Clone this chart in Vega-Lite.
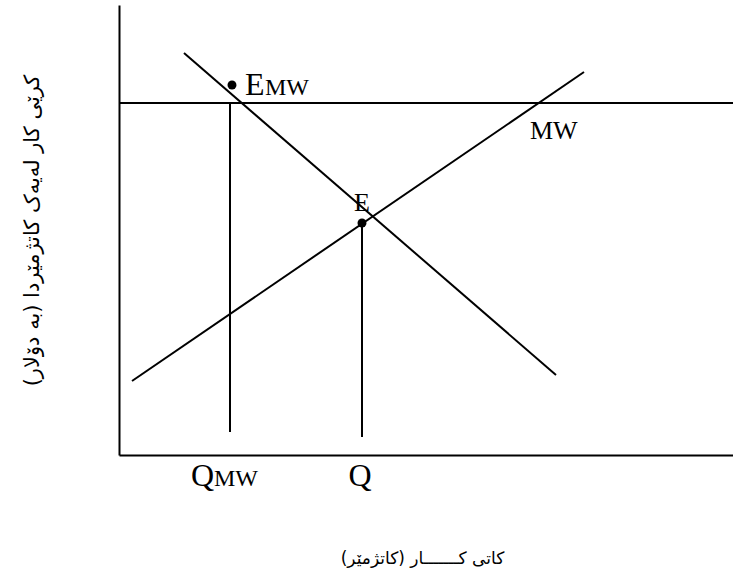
{
  "$schema": "https://vega.github.io/schema/vega-lite/v6.json",
  "width": 614,
  "height": 450,
  "autosize": "none",
  "padding": {"left": 119, "top": 5, "right": 0, "bottom": 133},
  "background": "white",
  "config": {"view": {"stroke": null}},
  "datasets": {
    "segments": [
      {"name": "MW", "x1": 0, "y1": 352, "x2": 614, "y2": 352},
      {"name": "D", "x1": 65, "y1": 402, "x2": 437, "y2": 80},
      {"name": "S", "x1": 13, "y1": 74, "x2": 465, "y2": 383},
      {"name": "QMW", "x1": 111, "y1": 352, "x2": 111, "y2": 23},
      {"name": "Q", "x1": 243, "y1": 232, "x2": 243, "y2": 18}
    ],
    "points": [
      {"name": "EMW", "x": 113, "y": 370},
      {"name": "E", "x": 243, "y": 232}
    ],
    "capLeft": [
      {"label": "E", "x": 126, "y": 360},
      {"label": "Q", "x": 72, "y": -31}
    ],
    "capCenter": [
      {"label": "Q", "x": 241, "y": -31}
    ],
    "subCaps": [
      {"label": "MW", "x": 146, "y": 360},
      {"label": "MW", "x": 95, "y": -31}
    ],
    "mwLabel": [
      {"label": "MW", "x": 411, "y": 316}
    ],
    "eLabel": [
      {"label": "E", "x": 243, "y": 244}
    ]
  },
  "layer": [
    {
      "data": {"name": "segments"},
      "mark": {"type": "rule", "color": "black", "strokeWidth": 2},
      "encoding": {
        "x": {
          "field": "x1", "type": "quantitative",
          "scale": {"domain": [0, 614], "nice": false, "zero": false},
          "axis": {
            "domain": true, "domainColor": "black", "domainWidth": 2,
            "ticks": false, "labels": false, "grid": false,
            "title": "کاتی کـــــــار (کاتژمێر)",
            "titleFont": "DejaVu Sans", "titleFontSize": 17, "titleFontWeight": "normal",
            "titleColor": "black", "titleX": 303, "titleY": 103,
            "titleAlign": "center", "titleBaseline": "middle"
          }
        },
        "y": {
          "field": "y1", "type": "quantitative",
          "scale": {"domain": [0, 450], "nice": false, "zero": false},
          "axis": {
            "domain": true, "domainColor": "black", "domainWidth": 2,
            "ticks": false, "labels": false, "grid": false,
            "title": "کرێی کار لەیەک کاتژمێردا (بە دۆلار)",
            "titleFont": "DejaVu Sans", "titleFontSize": 21, "titleFontWeight": "normal",
            "titleColor": "black", "titleX": -87, "titleY": 225,
            "titleAngle": -90, "titleAlign": "center", "titleBaseline": "middle"
          }
        },
        "x2": {"field": "x2"},
        "y2": {"field": "y2"}
      }
    },
    {
      "data": {"name": "points"},
      "mark": {"type": "circle", "color": "black", "opacity": 1, "size": 80},
      "encoding": {
        "x": {"field": "x", "type": "quantitative"},
        "y": {"field": "y", "type": "quantitative"}
      }
    },
    {
      "data": {"name": "capLeft"},
      "mark": {"type": "text", "font": "Liberation Serif", "fontSize": 32, "color": "black", "baseline": "alphabetic", "align": "left"},
      "encoding": {
        "x": {"field": "x", "type": "quantitative"},
        "y": {"field": "y", "type": "quantitative"},
        "text": {"field": "label"}
      }
    },
    {
      "data": {"name": "capCenter"},
      "mark": {"type": "text", "font": "Liberation Serif", "fontSize": 32, "color": "black", "baseline": "alphabetic", "align": "center"},
      "encoding": {
        "x": {"field": "x", "type": "quantitative"},
        "y": {"field": "y", "type": "quantitative"},
        "text": {"field": "label"}
      }
    },
    {
      "data": {"name": "subCaps"},
      "mark": {"type": "text", "font": "Liberation Serif", "fontSize": 24, "color": "black", "baseline": "alphabetic", "align": "left"},
      "encoding": {
        "x": {"field": "x", "type": "quantitative"},
        "y": {"field": "y", "type": "quantitative"},
        "text": {"field": "label"}
      }
    },
    {
      "data": {"name": "mwLabel"},
      "mark": {"type": "text", "font": "Liberation Serif", "fontSize": 26, "color": "black", "baseline": "alphabetic", "align": "left"},
      "encoding": {
        "x": {"field": "x", "type": "quantitative"},
        "y": {"field": "y", "type": "quantitative"},
        "text": {"field": "label"}
      }
    },
    {
      "data": {"name": "eLabel"},
      "mark": {"type": "text", "font": "Liberation Serif", "fontSize": 26, "color": "black", "baseline": "alphabetic", "align": "center"},
      "encoding": {
        "x": {"field": "x", "type": "quantitative"},
        "y": {"field": "y", "type": "quantitative"},
        "text": {"field": "label"}
      }
    }
  ]
}
